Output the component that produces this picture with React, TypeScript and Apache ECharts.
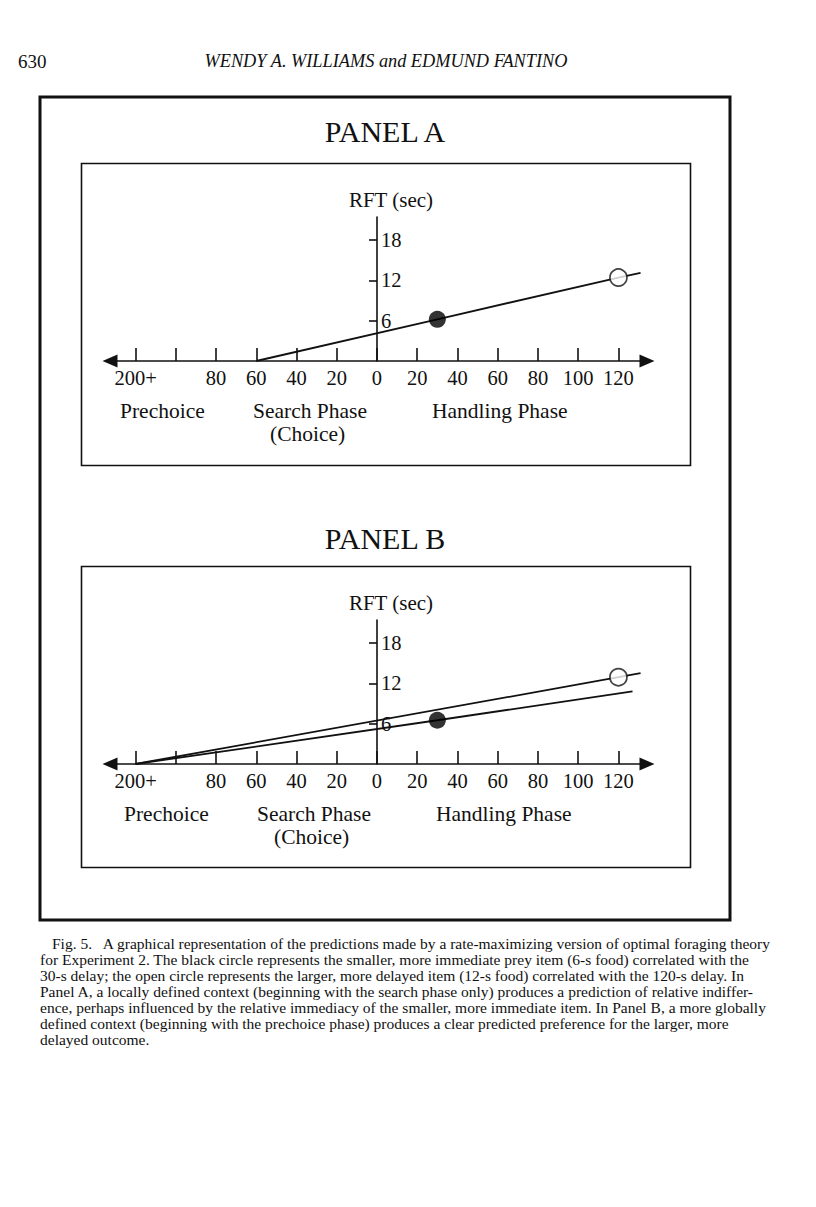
import React, { useEffect, useRef } from "react";
import * as echarts from "echarts";

// ---- data ----
const xTickValues = [-120, -100, -80, -60, -40, -20, 0, 20, 40, 60, 80, 100, 120];
const xTickLabels = ["200+", "", "80", "60", "40", "20", "0", "20", "40", "60", "80", "100", "120"];
const yTickValues = [6, 12, 18];
const yTickLabels = ["6", "12", "18"];
const yAxisName = "RFT (sec)";
const phaseLabels = ["Prechoice", "Search Phase", "(Choice)", "Handling Phase"];
const panelTitles = ["PANEL A", "PANEL B"];

const panelALine = [[-60, 0], [30, 6.2], [120, 12.4], [131, 13.1]];
const panelASmaller = [[30, 6.2]];
const panelALarger = [[120, 12.4]];

const panelBUpperLine = [[-120, 0], [120, 12.9], [131, 13.5]];
const panelBLowerLine = [[-120, 0], [30, 6.5], [127, 10.8]];
const panelBSmaller = [[30, 6.5]];
const panelBLarger = [[120, 12.9]];

const pageNumber = "630";
const runningHead = "WENDY A. WILLIAMS and EDMUND FANTINO";
const captionLines = [
  "Fig. 5.   A graphical representation of the predictions made by a rate-maximizing version of optimal foraging theory",
  "for Experiment 2. The black circle represents the smaller, more immediate prey item (6-s food) correlated with the",
  "30-s delay; the open circle represents the larger, more delayed item (12-s food) correlated with the 120-s delay. In",
  "Panel A, a locally defined context (beginning with the search phase only) produces a prediction of relative indiffer-",
  "ence, perhaps influenced by the relative immediacy of the smaller, more immediate item. In Panel B, a more globally",
  "defined context (beginning with the prechoice phase) produces a clear predicted preference for the larger, more",
  "delayed outcome.",
];

const INK = "#111";
const FONT = "'Liberation Serif', 'Times New Roman', serif";

const GRID_LEFT = 110;
const GRID_WIDTH = 537;
const X_MIN = -132.7;
const X_MAX = 134.2;
// pixel offset of x = 0 from the grid's left edge (y axis sits there)
const Y_AXIS_OFFSET = -((0 - X_MIN) / (X_MAX - X_MIN)) * GRID_WIDTH;

function xAxisCfg(gridIndex: number) {
  return {
    type: "value",
    gridIndex,
    min: X_MIN,
    max: X_MAX,
    splitLine: { show: false },
    axisLine: {
      show: true,
      onZero: false,
      symbol: ["triangle", "triangle"],
      symbolSize: [13, 15],
      lineStyle: { color: INK, width: 1.6 },
    },
    axisTick: {
      show: true,
      inside: true,
      length: 13,
      customValues: xTickValues,
      lineStyle: { color: INK, width: 1.6 },
    },
    axisLabel: {
      show: true,
      customValues: xTickValues,
      formatter: (v: number) => {
        const i = xTickValues.indexOf(Math.round(v));
        return i >= 0 ? xTickLabels[i] : "";
      },
      margin: 6,
      color: INK,
      fontSize: 20.5,
      fontFamily: FONT,
      hideOverlap: false,
    },
  };
}

function yAxisCfg(gridIndex: number) {
  return {
    type: "value",
    gridIndex,
    position: "left",
    offset: Y_AXIS_OFFSET,
    min: 0,
    max: 21.4,
    name: yAxisName,
    nameLocation: "end",
    nameGap: 7,
    nameMoveOverlap: false,
    nameTextStyle: {
      color: INK,
      fontSize: 21,
      fontFamily: FONT,
      align: "center",
      padding: [0, 0, 0, 28],
    },
    splitLine: { show: false },
    axisLine: { show: true, onZero: false, lineStyle: { color: INK, width: 1.6 } },
    axisTick: {
      show: true,
      inside: false,
      length: 8,
      customValues: yTickValues,
      lineStyle: { color: INK, width: 1.6 },
    },
    axisLabel: {
      show: true,
      inside: true,
      customValues: yTickValues,
      formatter: (v: number) => {
        const i = yTickValues.indexOf(Math.round(v));
        return i >= 0 ? yTickLabels[i] : "";
      },
      margin: 4,
      color: INK,
      fontSize: 20.5,
      fontFamily: FONT,
    },
  };
}

function lineSeries(data: number[][], idx: number) {
  return {
    type: "line",
    xAxisIndex: idx,
    yAxisIndex: idx,
    data,
    symbol: "none",
    showSymbol: false,
    silent: true,
    z: 2,
    lineStyle: { color: INK, width: 1.8 },
  };
}

function dotSeries(data: number[][], idx: number, filled: boolean) {
  return {
    type: "scatter",
    xAxisIndex: idx,
    yAxisIndex: idx,
    data,
    symbol: "circle",
    symbolSize: 17,
    silent: true,
    z: 5,
    itemStyle: filled
      ? { color: "#000", borderColor: "#000", borderWidth: 0 }
      : { color: "#fff", borderColor: INK, borderWidth: 1.7 },
  };
}

function phaseTexts(dx: number, dy: number) {
  const pos = [
    [120, 411],
    [253, 411],
    [270, 434],
    [432, 411],
  ];
  return phaseLabels.map((t, i) => ({
    type: "text",
    x: pos[i][0] + dx,
    y: pos[i][1] + dy,
    style: {
      text: t,
      fill: INK,
      font: `21.5px ${FONT}`,
      textAlign: "left",
      textVerticalAlign: "middle",
    },
  }));
}

export default function App() {
  const ref = useRef<HTMLDivElement>(null);

  useEffect(() => {
    if (!ref.current) return;
    const chart = echarts.init(ref.current, undefined, { renderer: "svg" });

    const graphics: any[] = [
      // outer frame
      {
        type: "rect",
        shape: { x: 40, y: 97, width: 690, height: 823 },
        style: { fill: "none", stroke: INK, lineWidth: 3 },
        z: 0,
      },
      // panel boxes
      {
        type: "rect",
        shape: { x: 81.5, y: 163.5, width: 609, height: 302 },
        style: { fill: "none", stroke: INK, lineWidth: 1.6 },
      },
      {
        type: "rect",
        shape: { x: 81.5, y: 566.5, width: 609, height: 301 },
        style: { fill: "none", stroke: INK, lineWidth: 1.6 },
      },
      // panel titles
      {
        type: "text",
        x: 385,
        y: 131,
        style: { text: panelTitles[0], fill: INK, font: `30px ${FONT}`, textAlign: "center", textVerticalAlign: "middle" },
      },
      {
        type: "text",
        x: 385,
        y: 538,
        style: { text: panelTitles[1], fill: INK, font: `30px ${FONT}`, textAlign: "center", textVerticalAlign: "middle" },
      },
      // running head
      {
        type: "text",
        x: 18,
        y: 61,
        style: { text: pageNumber, fill: INK, font: `19px ${FONT}`, textAlign: "left", textVerticalAlign: "middle" },
      },
      {
        type: "text",
        x: 386,
        y: 61,
        style: {
          text: runningHead,
          fill: INK,
          font: `italic 18.3px ${FONT}`,
          textAlign: "center",
          textVerticalAlign: "middle",
        },
      },
      ...phaseTexts(0, 0),
      ...phaseTexts(4, 403),
      ...captionLines.map((t, i) => ({
        type: "text",
        x: i === 0 ? 52 : 40,
        y: 943 + i * 16,
        style: { text: t, fill: INK, font: `15.5px ${FONT}`, textAlign: "left", textVerticalAlign: "middle" },
      })),
    ];

    chart.setOption({
      animation: false,
      backgroundColor: "#fff",
      textStyle: { fontFamily: FONT },
      grid: [
        { left: GRID_LEFT, top: 217, width: GRID_WIDTH, height: 144, outerBoundsMode: "none", containLabel: false },
        { left: GRID_LEFT, top: 620, width: GRID_WIDTH, height: 144, outerBoundsMode: "none", containLabel: false },
      ],
      xAxis: [xAxisCfg(0), xAxisCfg(1)],
      yAxis: [yAxisCfg(0), yAxisCfg(1)],
      series: [
        lineSeries(panelALine, 0),
        dotSeries(panelASmaller, 0, true),
        dotSeries(panelALarger, 0, false),
        lineSeries(panelBUpperLine, 1),
        lineSeries(panelBLowerLine, 1),
        dotSeries(panelBSmaller, 1, true),
        dotSeries(panelBLarger, 1, false),
      ],
      graphic: graphics,
    });

    return () => chart.dispose();
  }, []);

  return (
    <div
      ref={ref}
      style={{ position: "absolute", left: 0, top: 0, width: 816, height: 1207, background: "#fff" }}
    />
  );
}
